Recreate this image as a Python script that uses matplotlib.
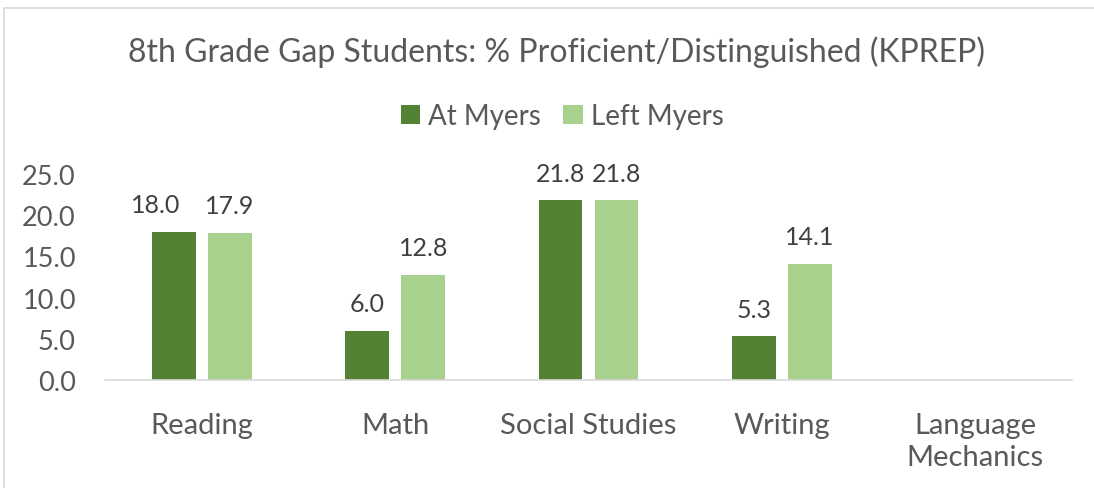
import matplotlib
matplotlib.use("Agg")
from matplotlib import pyplot as plt
from matplotlib.patches import Rectangle
import numpy as np

categories = ["Reading", "Math", "Social Studies", "Writing", "Language\nMechanics"]
at_myers = [18.0, 6.0, 21.8, 5.3, None]
left_myers = [17.9, 12.8, 21.8, 14.1, None]
series_names = ["At Myers", "Left Myers"]
yticks = [0, 5, 10, 15, 20, 25]

dark = "#548235"
light = "#A9D18E"
grey = "#595959"

plt.rcParams["font.family"] = ["Lato", "DejaVu Sans"]

fig = plt.figure(figsize=(10.94, 4.89), dpi=100)
# chart frame (cut off at right/bottom in the original)
fig.patches.append(Rectangle((4 / 1094, -0.1), 1.2, 1 - 9 / 489 + 0.1,
                             transform=fig.transFigure, fill=False,
                             edgecolor="#d9d9d9", linewidth=1.2))

ax = fig.add_axes([105 / 1094, 1 - 381 / 489, 967 / 1094, 206 / 489])

x = np.arange(len(categories))
w = 0.227
off = 0.145
for vals, sign, color, name in [(at_myers, -1, dark, series_names[0]),
                                (left_myers, 1, light, series_names[1])]:
    xs = [xi + sign * off for xi, v in zip(x, vals) if v is not None]
    vs = [v for v in vals if v is not None]
    ax.bar(xs, vs, width=w, color=color, label=name)
    for i, (xi, v) in enumerate(zip(xs, vs)):
        # first label was nudged left in the original to keep clear of its neighbour
        dx = -13 if (sign < 0 and i == 0) else 0
        ax.annotate(f"{v:.1f}", (xi, v), xytext=(dx, 14), textcoords="offset points",
                    ha="center", va="baseline", fontsize=18, color="#404040")

ax.set_xlim(-0.5, len(categories) - 0.5)
ax.set_ylim(0, 25)
ax.set_yticks(yticks)
ax.set_yticklabels([f"{t:.1f}" for t in yticks], fontsize=19.5, color=grey)
ax.set_xticks(x)
ax.set_xticklabels(categories, fontsize=21, color=grey, linespacing=1.3)
ax.tick_params(length=0)
ax.tick_params(axis="x", pad=23)
ax.tick_params(axis="y", pad=21)
for s in ["top", "right", "left"]:
    ax.spines[s].set_visible(False)
ax.spines["bottom"].set_color("#d9d9d9")
ax.spines["bottom"].set_linewidth(1.2)

fig.text(0.509, 1 - 52 / 489, "8th Grade Gap Students: % Proficient/Distinguished (KPREP)",
         ha="center", va="center", fontsize=23, color=grey)
fig.legend(loc="center", bbox_to_anchor=(0.514, 1 - 117 / 489), ncol=2,
           frameon=False, fontsize=20, labelcolor=grey, handlelength=0.7,
           handleheight=0.7, handletextpad=0.3, columnspacing=0.8)

fig.savefig("out.png", dpi=100)
